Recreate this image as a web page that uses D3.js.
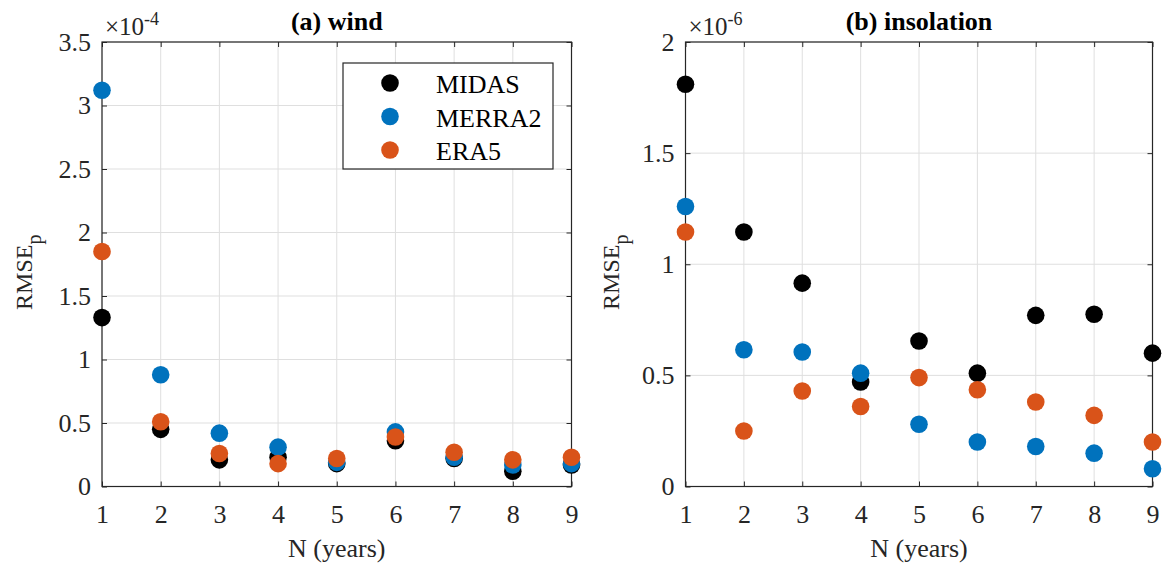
<!DOCTYPE html>
<html>
<head>
<meta charset="utf-8">
<script src="https://cdn.jsdelivr.net/npm/d3@7"></script>
<style>
  html, body { margin: 0; padding: 0; background: #fff; }
  svg { display: block; }
  svg text { font-family: "Liberation Serif", "Times New Roman", serif; }
</style>
</head>
<body>
<svg id="chart" width="1162" height="571"></svg>
<script>
// Window lengths N (years)
const years = [1, 2, 3, 4, 5, 6, 7, 8, 9];
const seriesNames = ["MIDAS", "MERRA2", "ERA5"];
const seriesColors = ["#000000", "#0072BD", "#D95319"];

// (a) wind, RMSE_p in units of 1e-4
const windMIDAS  = [1.33, 0.45, 0.21, 0.23, 0.18, 0.36, 0.22, 0.12, 0.17];
const windMERRA2 = [3.12, 0.88, 0.42, 0.31, 0.19, 0.43, 0.23, 0.17, 0.18];
const windERA5   = [1.85, 0.51, 0.26, 0.18, 0.22, 0.39, 0.27, 0.21, 0.23];
const windYTicks = [0, 0.5, 1, 1.5, 2, 2.5, 3, 3.5];

// (b) insolation, RMSE_p in units of 1e-6
const solMIDAS  = [1.81, 1.145, 0.915, 0.47, 0.655, 0.51, 0.77, 0.775, 0.60];
const solMERRA2 = [1.26, 0.615, 0.605, 0.51, 0.28, 0.20, 0.18, 0.15, 0.08];
const solERA5   = [1.145, 0.25, 0.43, 0.36, 0.49, 0.435, 0.38, 0.32, 0.20];
const solYTicks = [0, 0.5, 1, 1.5, 2];

const svg = d3.select("#chart");
const FONT = '"Liberation Serif", "Times New Roman", serif';
const axisColor = "#262626";
const gridColor = "#dfdfdf";
const markerR = 8.8;

function drawPanel(opt) {
  const { left, right, top, bottom, yMax, yTicks, series, title, exponent, legend, ylabelX } = opt;
  const x = d3.scaleLinear().domain([1, 9]).range([left, right]);
  const y = d3.scaleLinear().domain([0, yMax]).range([bottom, top]);
  const g = svg.append("g");

  // grid
  g.append("g").selectAll("line").data(years).join("line")
    .attr("x1", d => x(d)).attr("x2", d => x(d))
    .attr("y1", top).attr("y2", bottom)
    .attr("stroke", gridColor).attr("stroke-width", 1);
  g.append("g").selectAll("line").data(yTicks).join("line")
    .attr("x1", left).attr("x2", right)
    .attr("y1", d => y(d)).attr("y2", d => y(d))
    .attr("stroke", gridColor).attr("stroke-width", 1);

  // axes (ticks pointing inward, box on all sides)
  const fmt = d => d3.format("~g")(d);
  const styleAxis = sel => {
    sel.attr("font-family", FONT).attr("font-size", 26);
    sel.select(".domain").remove();
    sel.selectAll("line").attr("stroke", axisColor);
    sel.selectAll("text").attr("fill", axisColor);
  };
  g.append("g").attr("transform", `translate(0,${bottom})`)
    .call(d3.axisBottom(x).tickValues(years).tickFormat(fmt).tickSizeInner(-5).tickSizeOuter(0).tickPadding(18))
    .call(styleAxis);
  g.append("g").attr("transform", `translate(0,${top})`)
    .call(d3.axisTop(x).tickValues(years).tickFormat("").tickSizeInner(-5).tickSizeOuter(0))
    .call(styleAxis);
  g.append("g").attr("transform", `translate(${left},0)`)
    .call(d3.axisLeft(y).tickValues(yTicks).tickFormat(fmt).tickSizeInner(-5).tickSizeOuter(0).tickPadding(11))
    .call(styleAxis);
  g.append("g").attr("transform", `translate(${right},0)`)
    .call(d3.axisRight(y).tickValues(yTicks).tickFormat("").tickSizeInner(-5).tickSizeOuter(0))
    .call(styleAxis);

  g.append("rect").attr("x", left).attr("y", top)
    .attr("width", right - left).attr("height", bottom - top)
    .attr("fill", "none").attr("stroke", axisColor).attr("stroke-width", 1.2);

  // markers
  series.forEach((vals, i) => {
    g.append("g").selectAll("circle").data(vals).join("circle")
      .attr("cx", (d, j) => x(years[j]))
      .attr("cy", d => y(d))
      .attr("r", markerR)
      .attr("fill", seriesColors[i]);
  });

  // title
  g.append("text").attr("x", (left + right) / 2).attr("y", 30)
    .attr("text-anchor", "middle").attr("font-weight", "bold")
    .attr("font-size", 26).attr("fill", "#000").text(title);

  // exponent label
  const ex = g.append("text").attr("x", left + 3).attr("y", 35)
    .attr("font-size", 25).attr("fill", axisColor);
  ex.append("tspan").text("\u00d710");
  ex.append("tspan").attr("dy", -10).attr("font-size", 18).text(exponent);

  // axis labels
  g.append("text").attr("x", (left + right) / 2).attr("y", 557)
    .attr("text-anchor", "middle").attr("font-size", 26).attr("fill", axisColor)
    .text("N (years)");
  const yl = g.append("text")
    .attr("transform", `translate(${ylabelX},${(top + bottom) / 2 + 8}) rotate(-90)`)
    .attr("text-anchor", "middle").attr("font-size", 24).attr("fill", axisColor);
  yl.append("tspan").text("RMSE");
  yl.append("tspan").attr("dy", 9).attr("font-size", 20).text("p");

  // legend
  if (legend) {
    const lg = g.append("g");
    lg.append("rect").attr("x", legend.x).attr("y", legend.y)
      .attr("width", legend.w).attr("height", legend.h)
      .attr("fill", "#fff").attr("stroke", axisColor).attr("stroke-width", 1.2);
    seriesNames.forEach((name, i) => {
      const cy = legend.y + 20 + i * 33.5;
      lg.append("circle").attr("cx", legend.x + 47).attr("cy", cy)
        .attr("r", markerR).attr("fill", seriesColors[i]);
      lg.append("text").attr("x", legend.x + 93).attr("y", cy + 10)
        .attr("font-size", 26).attr("fill", "#000").text(name);
    });
  }
}

drawPanel({
  left: 102, right: 571.5, top: 42, bottom: 486.5,
  yMax: 3.5, yTicks: windYTicks,
  series: [windMIDAS, windMERRA2, windERA5],
  title: "(a) wind", exponent: "-4", ylabelX: 32,
  legend: { x: 343, y: 63, w: 210, h: 106 }
});

drawPanel({
  left: 685.5, right: 1152.5, top: 42, bottom: 486.5,
  yMax: 2, yTicks: solYTicks,
  series: [solMIDAS, solMERRA2, solERA5],
  title: "(b) insolation", exponent: "-6", ylabelX: 619
});
</script>
</body>
</html>
